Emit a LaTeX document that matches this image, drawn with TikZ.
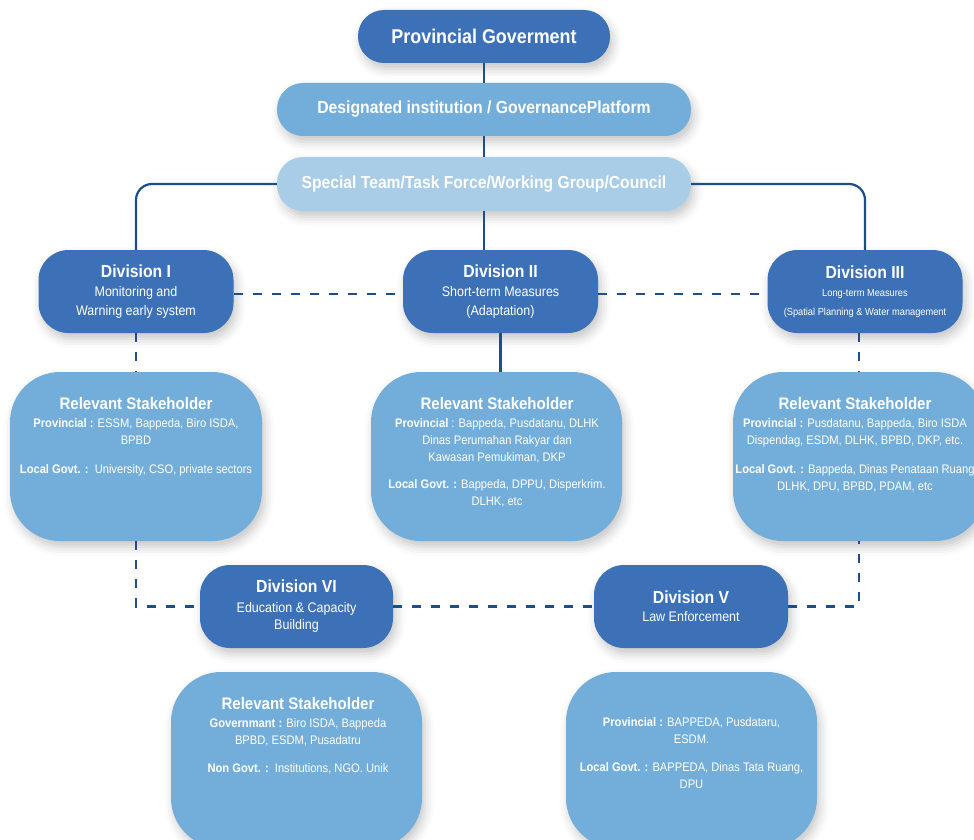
\documentclass[tikz,border=0pt]{standalone}
\usepackage{fontspec}
\setmainfont[FakeStretch=0.9]{Liberation Sans}
\usetikzlibrary{shadows.blur}
\definecolor{darkbox}{HTML}{3C71B8}
\definecolor{midbox}{HTML}{73AEDB}
\definecolor{lightbox}{HTML}{A9CDE7}
\definecolor{linecol}{HTML}{1E4D8C}
\tikzset{
  sh/.style={blur shadow={shadow xshift=3pt, shadow yshift=-6pt, shadow blur radius=9pt, shadow opacity=22}},
  conn/.style={draw=linecol, line width=2.2pt},
  dconn/.style={conn, dash pattern=on 9pt off 10pt},
  pill/.style={rectangle, rounded corners=26pt, inner sep=0pt, text=white, align=center, sh},
  divbox/.style={rectangle, rounded corners=30pt, fill=darkbox, minimum width=195pt, minimum height=83pt, inner sep=0pt, text=white, align=center, sh, font=\fontsize{13.9}{19}\selectfont},
  stakebox/.style={rectangle, rounded corners=50pt, fill=midbox, minimum width=252pt, minimum height=169pt, inner sep=0pt, sh},
  staketext/.style={anchor=north, inner sep=0pt, text=white, align=center, font=\fontsize{12.4}{17}\selectfont}
}
\newcommand{\divttl}[1]{{\bfseries\fontsize{17.5}{19}\selectfont #1}}
\newcommand{\sttl}{{\bfseries\fontsize{16.7}{17}\selectfont Relevant Stakeholder}}
\begin{document}
\begin{tikzpicture}[x=1pt,y=-1pt]
\useasboundingbox (0,0) rectangle (974,840);
% top boxes
\node[pill, fill=darkbox, minimum width=252pt, minimum height=53pt, font=\bfseries\fontsize{19.9}{21}\selectfont] (pg) at (484,36.5) {Provincial Goverment};
\node[pill, fill=midbox, minimum width=414pt, minimum height=53pt, font=\bfseries\fontsize{17.5}{19}\selectfont] (di) at (484,109.5) {Designated institution / GovernancePlatform};
\node[pill, fill=lightbox, minimum width=414pt, minimum height=54pt, font=\bfseries\fontsize{17.4}{19}\selectfont] (st) at (484,184) {Special Team/Task Force/Working Group/Council};
% divisions
\node[divbox] (d1) at (136,291.5) {\divttl{Division I}\\Monitoring and\\Warning early system};
\node[divbox] (d2) at (500.5,291.5) {\divttl{Division II}\\Short-term Measures\\(Adaptation)};
\node[divbox] (d3) at (865,291.5) {\divttl{Division III}\\[-1pt]{\fontsize{10.3}{17}\selectfont Long-term Measures}\\{\fontsize{10.3}{17}\selectfont (Spatial Planning \& Water management}};
\node[divbox, minimum width=193pt] (d6) at (296.5,606.5) {\divttl{Division VI}\\[1pt]Education \& Capacity\\[-2pt]Building};
\node[divbox, minimum width=194pt] (d5) at (691,606.5) {\divttl{Division V}\\[-1pt]Law Enforcement};
% stakeholder boxes
\node[stakebox] (s1) at (136,456.5) {};
\node[stakebox, minimum width=251pt] (s2) at (496.5,456.5) {};
\node[stakebox] (s3) at (859,456.5) {};
\node[stakebox, minimum width=251pt, minimum height=176pt] (s4) at (296.5,760) {};
\node[stakebox, minimum width=251pt, minimum height=176pt] (s5) at (691.5,760) {};
% stakeholder texts
\node[staketext] (s1t) at (136,397) {\sttl\\[1pt]\textbf{Provincial :} ESSM, Bappeda, Biro ISDA,\\BPBD\\[12pt]\textbf{Local Govt. :}\ \ University, CSO, private sectors};
\node[staketext] (s2t) at (497,397) {\sttl\\[1pt]\textbf{Provincial} : Bappeda, Pusdatanu, DLHK\\Dinas Perumahan Rakyar dan\\Kawasan Pemukiman, DKP\\[10pt]\textbf{Local Govt. :} Bappeda, DPPU, Disperkrim.\\DLHK, etc};
\node[staketext] (s3t) at (855,397) {\sttl\\[1pt]\textbf{Provincial :} Pusdatanu, Bappeda, Biro ISDA\\Dispendag, ESDM, DLHK, BPBD, DKP, etc.\\[12pt]\textbf{Local Govt. :} Bappeda, Dinas Penataan Ruang\\DLHK, DPU, BPBD, PDAM, etc};
\node[staketext] (s4t) at (298,697) {\sttl\\[1pt]\textbf{Governmant :} Biro ISDA, Bappeda\\BPBD, ESDM, Pusadatru\\[11pt]\textbf{Non Govt. :}\ \ Institutions, NGO. Unik};
\node[staketext] (s5t) at (691.5,717) {\textbf{Provincial :} BAPPEDA, Pusdataru,\\ESDM.\\[11pt]\textbf{Local Govt. :} BAPPEDA, Dinas Tata Ruang,\\DPU};
% connectors
\draw[conn] (pg.south) -- (di.north);
\draw[conn] (di.south) -- (st.north);
\draw[conn] (st.south) -- (st.south |- d2.north);
\draw[conn, rounded corners=16pt] (st.west) -| (d1.north);
\draw[conn, rounded corners=16pt] (st.east) -| (d3.north);
\draw[dconn] ([yshift=-2.5pt]d1.east) -- ([yshift=-2.5pt]d2.west);
\draw[dconn] ([yshift=-2.5pt]d2.east) -- ([yshift=-2.5pt]d3.west);
\draw[dconn] (d1.south) -- (s1.north);
\draw[conn] (d2.south) -- (d2.south |- s2.north);
\draw[dconn] (s3.north |- d3.south) -- (s3.north);
\draw[dconn] (s1.south) |- (d6.west);
\draw[dconn] (d6.east) -- (d5.west);
\draw[dconn] (d5.east) -| (s3.south);
\end{tikzpicture}
\end{document}
